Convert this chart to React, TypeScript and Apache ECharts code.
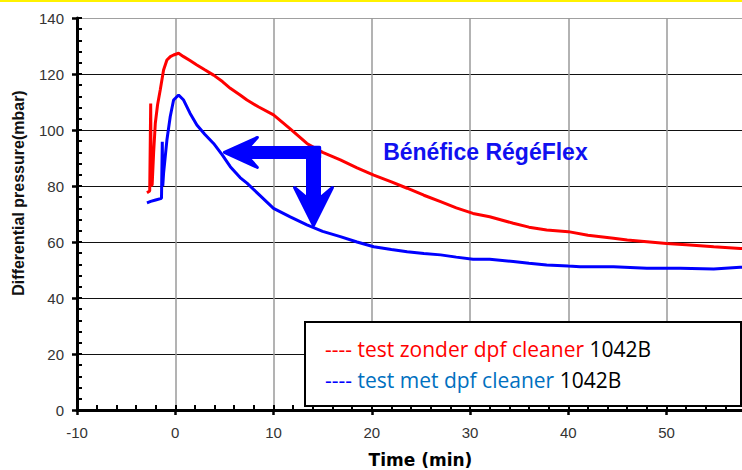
import React, { useEffect, useRef } from 'react';
import * as echarts from 'echarts';

// x: time (min), y: differential pressure (mbar)
const redSeries: [number, number][] = [
  [-2.88, 77.6], [-2.6, 78.2], [-2.5, 109.5], [-2.45, 80], [-2.35, 80.5], [-2.2, 92],
  [-2.03, 102.4], [-1.8, 109], [-1.53, 114.3], [-1.19, 121.4], [-0.85, 125], [-0.5, 126.2],
  [-0.17, 126.8], [0.34, 127.4], [0.85, 126.2], [1.5, 124.8], [2.2, 123.2], [3.0, 121.5],
  [3.9, 119.6], [4.8, 117.3], [5.6, 114.9], [6.6, 112.5], [7.3, 110.7], [8.5, 108.2],
  [10, 105.4], [11.7, 100.4], [13.4, 95.2], [15, 92], [16.8, 89.3], [18.5, 86.5],
  [20.2, 83.9], [22, 81.5], [23.6, 79.2], [25.3, 76.7], [27, 74.4], [28.6, 72.2],
  [30.3, 70.2], [32, 69], [34.4, 66.7], [36, 65.3], [37.8, 64.3], [40, 63.7],
  [42, 62.4], [44.6, 61.3], [46, 60.7], [48, 60.1], [50, 59.5], [52, 59],
  [54.8, 58.3], [57.5, 57.7], [60, 57.3],
];

const blueSeries: [number, number][] = [
  [-2.88, 74], [-2.5, 74.5], [-2.0, 75], [-1.4, 75.6], [-1.32, 95.8], [-1.27, 80],
  [-1.19, 84.5], [-0.85, 96.4], [-0.51, 104.8], [-0.17, 110.7], [0.34, 112.5], [0.85, 110.7],
  [1.5, 106], [2.2, 101.8], [3.0, 98.5], [3.9, 95.2], [4.8, 91], [5.6, 86.9],
  [6.6, 83], [7.3, 81], [8.5, 77], [10, 72], [11.7, 69], [13.4, 66.1],
  [15, 63.8], [16.8, 61.9], [18.5, 60], [20.2, 58.3], [22, 57.3], [23.6, 56.5],
  [25.3, 55.9], [27, 55.4], [28.6, 54.6], [30.3, 53.8], [32, 53.8], [34.4, 53],
  [36, 52.4], [37.8, 51.8], [40, 51.4], [41.2, 51.2], [44.6, 51.2], [48, 50.6],
  [51.4, 50.6], [54.8, 50.4], [57.5, 51], [60, 50.8],
];

const xRange = { min: -10, max: 60, interval: 10 };
const yRange = { min: 0, max: 140, interval: 20 };
const yGridColors = ['#111', '#111', '#111', '#111', '#111', '#111', '#111', '#a0a0a0'];

const xTitle = 'Time (min)';
const yTitle = 'Differential pressure(mbar)';
const annotation = 'Bénéfice RégéFlex';
const annotationAnchor: [number, number] = [21.16, 92.1];
const arrowLeft = { from: [14.7, 92] as [number, number], to: [5.0, 92] as [number, number] };
const arrowDown = { from: [14.07, 93.8] as [number, number], to: [14.07, 65.9] as [number, number] };

const legendRed = { dash: '----', label: 'test zonder dpf cleaner', code: '1042B' };
const legendBlue = { dash: '----', label: 'test met dpf cleaner', code: '1042B' };

function arrowPoints(p0: number[], p1: number[], sw: number, headL: number, headW: number, notch: number) {
  const dx = p1[0] - p0[0];
  const dy = p1[1] - p0[1];
  const len = Math.hypot(dx, dy);
  const d = [dx / len, dy / len];
  const n = [-d[1], d[0]];
  const pt = (base: number[], along: number, side: number) => [
    base[0] + d[0] * along + n[0] * side,
    base[1] + d[1] * along + n[1] * side,
  ];
  return [
    pt(p0, 0, sw / 2),
    pt(p1, -notch, sw / 2),
    pt(p1, -headL, headW),
    p1,
    pt(p1, -headL, -headW),
    pt(p1, -notch, -sw / 2),
    pt(p0, 0, -sw / 2),
  ];
}

export default function App() {
  const ref = useRef<HTMLDivElement>(null);

  useEffect(() => {
    const chart = echarts.init(ref.current!, null, { renderer: 'svg' });
    const labelStyle = { color: '#333', fontFamily: 'Liberation Sans, Arial', fontSize: 15 };
    const option: any = {
      animation: false,
      backgroundColor: '#fff',
      grid: {
        left: 77, top: 18, width: 687.8, height: 392,
        containLabel: false, outerBoundsMode: 'none',
      },
      xAxis: [
        {
          type: 'value', ...xRange, position: 'bottom',
          axisLine: { show: true, onZero: false, lineStyle: { color: '#000', width: 3 } },
          axisTick: { show: true, inside: true, length: 5, lineStyle: { color: '#000', width: 2 } },
          minorTick: { show: true, splitNumber: 5, length: 5, lineStyle: { color: '#000', width: 2 } },
          axisLabel: { ...labelStyle, margin: 15, showMaxLabel: false },
          splitLine: { show: true, lineStyle: { color: '#9a9a9a', width: 1.5 } },
        },
        {
          type: 'value', ...xRange, position: 'bottom',
          axisLine: { show: false, onZero: false },
          axisTick: { show: true, inside: false, length: 5, lineStyle: { color: '#000', width: 2.5 } },
          axisLabel: { show: false },
          splitLine: { show: false },
        },
      ],
      yAxis: [
        {
          type: 'value', ...yRange, position: 'left',
          axisLine: { show: true, onZero: false, lineStyle: { color: '#000', width: 3 } },
          axisTick: { show: true, inside: true, length: 5, lineStyle: { color: '#000', width: 2 } },
          minorTick: { show: true, splitNumber: 5, length: 5, lineStyle: { color: '#000', width: 2 } },
          axisLabel: { ...labelStyle, margin: 13 },
          splitLine: { show: true, lineStyle: { color: yGridColors, width: 1 } },
        },
        {
          type: 'value', ...yRange, position: 'left',
          axisLine: { show: false, onZero: false },
          axisTick: { show: true, inside: false, length: 5, lineStyle: { color: '#000', width: 2.5 } },
          axisLabel: { show: false },
          splitLine: { show: false },
        },
      ],
      series: [
        {
          type: 'line', data: redSeries, showSymbol: false, symbol: 'none',
          lineStyle: { color: '#ff0000', width: 3 }, z: 3,
        },
        {
          type: 'line', data: blueSeries, showSymbol: false, symbol: 'none',
          lineStyle: { color: '#0000ff', width: 3 }, z: 3,
        },
      ],
    };
    chart.setOption(option);

    const px = (p: [number, number]) =>
      chart.convertToPixel({ xAxisIndex: 0, yAxisIndex: 0 }, p) as number[];

    const arrowStyle = { fill: '#0000ff', stroke: '#0000ff', lineWidth: 3, lineJoin: 'round' };
    const aL = arrowPoints(px(arrowLeft.from), px(arrowLeft.to), 10, 33, 15, 24);
    const aD = arrowPoints(px(arrowDown.from), px(arrowDown.to), 12, 38, 19, 27);
    const anchor = px(annotationAnchor);
    const legendFont = 'Open Sans, Lato, sans-serif';
    const lfs = 21;

    chart.setOption({
      graphic: [
        { type: 'rect', shape: { x: 0, y: 0, width: 742, height: 2 }, style: { fill: '#fff200' }, z: 50 },
        { type: 'polygon', shape: { points: aL }, style: arrowStyle, z: 60 },
        { type: 'polygon', shape: { points: aD }, style: arrowStyle, z: 60 },
        {
          type: 'text', x: anchor[0], y: anchor[1], z: 60,
          style: {
            text: annotation, fill: '#1010f0', fontFamily: 'Liberation Sans, Arial',
            fontWeight: 'bold', fontSize: 23, align: 'left', verticalAlign: 'middle',
          },
        },
        {
          type: 'rect', shape: { x: 305, y: 322, width: 436, height: 84 },
          style: { fill: '#fff', stroke: '#000', lineWidth: 2 }, z: 60,
        },
        {
          type: 'text', x: 325, y: 349, z: 61,
          style: {
            text: `{r|${legendRed.dash} ${legendRed.label}} {k|${legendRed.code}}`,
            fontFamily: legendFont, fontSize: lfs, verticalAlign: 'middle', align: 'left',
            rich: {
              r: { fill: '#ff0000', fontFamily: legendFont, fontSize: lfs },
              k: { fill: '#000000', fontFamily: legendFont, fontSize: lfs },
            },
          },
        },
        {
          type: 'text', x: 325, y: 380, z: 61,
          style: {
            text: `{b|${legendBlue.dash}} {c|${legendBlue.label}} {k|${legendBlue.code}}`,
            fontFamily: legendFont, fontSize: lfs, verticalAlign: 'middle', align: 'left',
            rich: {
              b: { fill: '#0000ff', fontFamily: legendFont, fontSize: lfs },
              c: { fill: '#0070c0', fontFamily: legendFont, fontSize: lfs },
              k: { fill: '#000000', fontFamily: legendFont, fontSize: lfs },
            },
          },
        },
        {
          type: 'text', x: 420.5, y: 460, z: 60,
          style: {
            text: xTitle, fill: '#000', fontFamily: 'DejaVu Sans', fontWeight: 'bold',
            fontSize: 17, align: 'center', verticalAlign: 'middle',
          },
        },
        {
          type: 'text', x: 18, y: 193, rotation: Math.PI / 2, z: 60,
          style: {
            text: yTitle, fill: '#111', fontFamily: 'Liberation Sans, Arial', fontWeight: 'bold',
            fontSize: 16, align: 'center', verticalAlign: 'middle',
          },
        },
      ],
    });

    return () => chart.dispose();
  }, []);

  return (
    <div
      ref={ref}
      style={{ position: 'fixed', left: 0, top: 0, width: 742, height: 470, background: '#fff' }}
    />
  );
}
